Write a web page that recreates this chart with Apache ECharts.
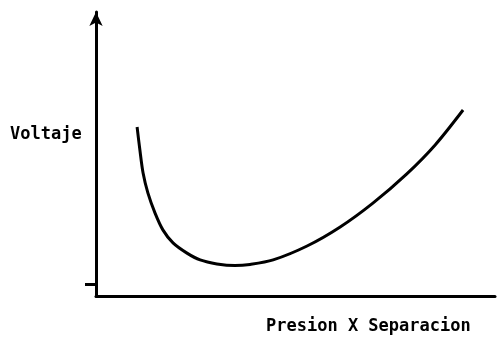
<!DOCTYPE html>
<html><head><meta charset="utf-8">
<script src="https://cdn.jsdelivr.net/npm/echarts@6/dist/echarts.min.js"></script>
<style>html,body{margin:0;padding:0;background:#fff}#c{width:497px;height:342px}</style>
</head><body><div id="c"></div>
<script>
var xValues = [10.3, 11.0, 11.8, 13.0, 14.8, 16.8, 19.3, 22.8, 26.1, 30.3, 34.8, 38.6, 44.4, 52.9, 61.2, 69.4, 77.9, 85.0, 92.0];
var voltage = [59.5, 51.4, 43.3, 36.3, 29.2, 23.2, 18.7, 15.1, 12.7, 11.3, 10.7, 11.1, 12.7, 17.6, 24.3, 32.7, 43.0, 53.2, 65.5];
var yAxisTitle = 'Voltaje';
var xAxisTitle = 'Presion X Separacion';
var yTickValues = [4];

var chart = echarts.init(document.getElementById('c'));
chart.setOption({
  animation: false,
  backgroundColor: '#fff',
  grid: {left: 96, right: 2, top: 12, bottom: 46},
  xAxis: {type: 'value', min: 0, max: 100,
    axisLine: {show: true, lineStyle: {color: '#000', width: 3}},
    axisTick: {show: false}, axisLabel: {show: false}, splitLine: {show: false}},
  yAxis: {type: 'value', min: 0, max: 100,
    axisLine: {show: true, symbol: ['none', 'arrow'], symbolSize: [10, 14], lineStyle: {color: '#000', width: 3}},
    axisTick: {show: true, customValues: yTickValues, length: 11, lineStyle: {color: '#000', width: 3}},
    axisLabel: {show: false}, splitLine: {show: false}},
  series: [{type: 'line', smooth: 0.3, symbol: 'none',
    lineStyle: {color: '#000', width: 3},
    data: xValues.map(function (x, i) { return [x, voltage[i]]; })}],
  graphic: [
    {type: 'text', left: 10, top: 126, style: {text: yAxisTitle, fill: '#000', font: 'bold 17px "DejaVu Sans Mono"'}},
    {type: 'text', left: 266, top: 318, style: {text: xAxisTitle, fill: '#000', font: 'bold 17px "DejaVu Sans Mono"'}}
  ]
});
</script></body></html>
